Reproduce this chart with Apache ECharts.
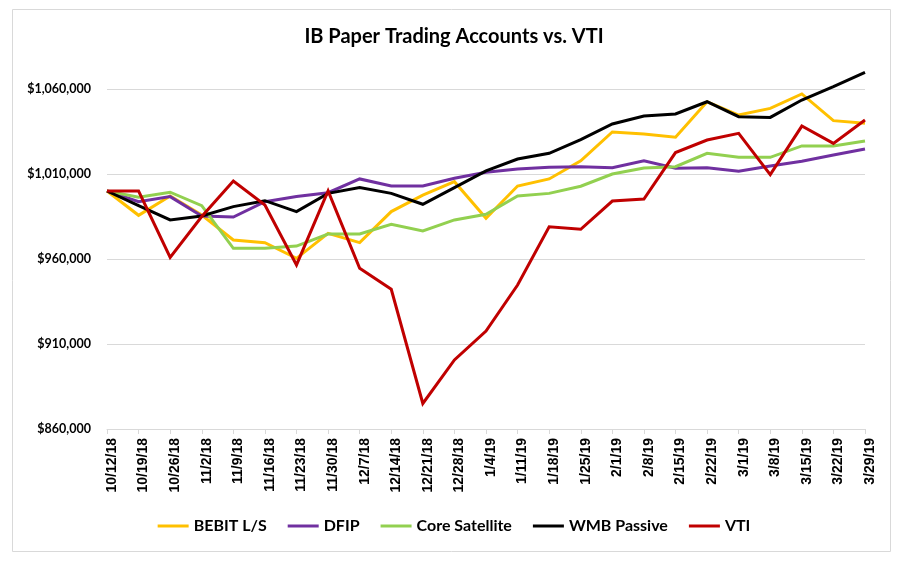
<!DOCTYPE html>
<html>
<head>
<meta charset="utf-8">
<script src="https://cdn.jsdelivr.net/npm/echarts@6/dist/echarts.min.js"></script>
<style>
html,body{margin:0;padding:0;background:#fff;}
#chart{width:908px;height:567px;}
</style>
</head>
<body>
<div id="chart"></div>
<script>
var dates = ['10/12/18','10/19/18','10/26/18','11/2/18','11/9/18','11/16/18','11/23/18','11/30/18','12/7/18','12/14/18','12/21/18','12/28/18','1/4/19','1/11/19','1/18/19','1/25/19','2/1/19','2/8/19','2/15/19','2/22/19','3/1/19','3/8/19','3/15/19','3/22/19','3/29/19'];
var bebit = [1000000, 985700, 997100, 985900, 971200, 969600, 960400, 975100, 969600, 987900, 997600, 1005500, 984000, 1002900, 1007100, 1017800, 1034700, 1033500, 1031600, 1052500, 1044700, 1048600, 1057100, 1041400, 1039800];
var dfip = [1000000, 993700, 996700, 985300, 984700, 993700, 996700, 999000, 1007100, 1002900, 1002900, 1007500, 1011000, 1013000, 1014000, 1014300, 1013700, 1017800, 1013400, 1013700, 1011600, 1014700, 1017500, 1021200, 1024700];
var coreSat = [1000000, 996300, 999300, 991400, 966300, 966300, 967600, 974700, 974700, 980400, 976500, 983000, 986300, 997100, 998600, 1002800, 1010000, 1013500, 1014300, 1022200, 1019800, 1019800, 1026500, 1026500, 1029400];
var wmb = [1000000, 991400, 983000, 985300, 990800, 994300, 987900, 998600, 1002000, 998600, 992200, 1002000, 1011800, 1018800, 1022200, 1030200, 1039400, 1044100, 1045300, 1052500, 1043700, 1043300, 1053500, 1061400, 1069800];
var vti = [1000000, 1000000, 961000, 985000, 1005900, 991800, 956500, 1000000, 954500, 942200, 875000, 900600, 917600, 944700, 979000, 977500, 994100, 995300, 1022600, 1030000, 1033900, 1009600, 1038200, 1028000, 1041800];
var seriesNames = ['BEBIT L/S', 'DFIP', 'Core Satellite', 'WMB Passive', 'VTI'];
var seriesColors = ['#FFC000', '#7030A0', '#92D050', '#000000', '#C00000'];
var seriesData = [bebit, dfip, coreSat, wmb, vti];

var chart = echarts.init(document.getElementById('chart'), null, {renderer: 'canvas'});
var series = seriesNames.map(function (name, i) {
  return {
    name: name,
    type: 'line',
    data: seriesData[i],
    symbol: 'none',
    clip: false,
    color: seriesColors[i],
    lineStyle: {width: 3, color: seriesColors[i], join: 'miter'}
  };
});
chart.setOption({
  animation: false,
  backgroundColor: '#ffffff',
  title: {
    text: 'IB Paper Trading Accounts vs. VTI',
    left: 'center',
    top: 27,
    padding: 0,
    textStyle: {fontFamily: 'Lato', fontWeight: 'bold', fontSize: 20, color: '#000'}
  },
  graphic: [{
    type: 'rect',
    shape: {x: 12.5, y: 9.5, width: 878, height: 542},
    style: {fill: 'none', stroke: '#d9d9d9', lineWidth: 1},
    silent: true,
    z: -10
  }],
  legend: {
    data: seriesNames,
    left: 'center',
    top: 513,
    icon: 'rect',
    itemWidth: 31,
    itemHeight: 3,
    itemGap: 21,
    textStyle: {fontFamily: 'Lato', fontWeight: 'bold', fontSize: 16, color: '#000'}
  },
  grid: {left: 107, top: 89, width: 758, height: 340, containLabel: false},
  xAxis: {
    type: 'category',
    data: dates,
    boundaryGap: false,
    axisLine: {lineStyle: {color: '#d9d9d9', width: 1}},
    axisTick: {show: true, length: 5, lineStyle: {color: '#d9d9d9'}},
    axisLabel: {
      rotate: 90,
      interval: 0,
      margin: 9,
      verticalAlign: 'top',
      lineHeight: 10,
      fontFamily: 'Liberation Sans',
      fontWeight: 'bold',
      fontSize: 14,
      color: '#000'
    },
    splitLine: {show: false}
  },
  yAxis: {
    type: 'value',
    min: 860000,
    max: 1060000,
    interval: 50000,
    axisLine: {show: false},
    axisTick: {show: false},
    axisLabel: {
      margin: 16,
      fontFamily: 'Lato',
      fontWeight: 'bold',
      fontSize: 12.5,
      color: '#000',
      formatter: function (v) { return '$' + v.toLocaleString('en-US'); }
    },
    splitLine: {lineStyle: {color: '#d9d9d9', width: 1}}
  },
  series: series
});
</script>
</body>
</html>
